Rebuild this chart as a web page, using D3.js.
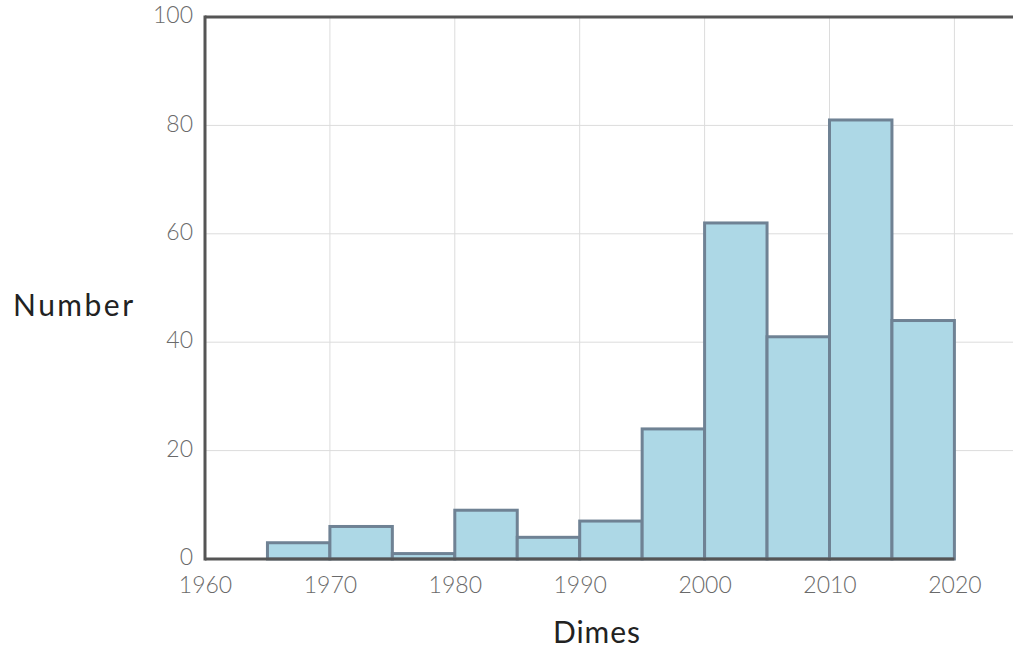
<!DOCTYPE html>
<html><head><meta charset="utf-8">
<script src="https://cdn.jsdelivr.net/npm/d3@7"></script>
<style>body{margin:0;background:#fff}svg{display:block}</style>
</head><body><svg id="c" width="1013" height="650"></svg>
<script>
const binStarts = [1960,1965,1970,1975,1980,1985,1990,1995,2000,2005,2010,2015,2020];
const binWidth = 5;
const counts = [0,3,6,1,9,4,7,24,62,41,81,44,0];
const xTicks = [1960,1970,1980,1990,2000,2010,2020];
const yTicks = [0,20,40,60,80,100];
const xTitle = "Dimes", yTitle = "Number";

const svg = d3.select("#c");
const font = "Lato, 'Noto Sans', sans-serif";
const x = d3.scaleLinear().domain([1960,2025]).range([205, 205+65*12.49]);
const y = d3.scaleLinear().domain([0,100]).range([559, 17]);

// grid
svg.append("g").selectAll("line").data(yTicks.filter(d=>d>0&&d<100)).join("line")
  .attr("x1",205).attr("x2",1013).attr("y1",d=>y(d)).attr("y2",d=>y(d))
  .attr("stroke","#dcdcdc").attr("stroke-width",1);
svg.append("g").selectAll("line").data(xTicks.filter(d=>d>1960)).join("line")
  .attr("y1",y(100)).attr("y2",y(0)).attr("x1",d=>x(d)).attr("x2",d=>x(d))
  .attr("stroke","#dcdcdc").attr("stroke-width",1);

// bars
svg.append("g").selectAll("rect").data(binStarts.map((s,i)=>({s,c:counts[i]}))).join("rect")
  .attr("x",d=>x(d.s)).attr("width",d=>x(d.s+binWidth)-x(d.s))
  .attr("y",d=>y(d.c)).attr("height",d=>y(0)-y(d.c))
  .attr("fill","#add8e6").attr("stroke","#6f8294").attr("stroke-width",3);

// frame
svg.append("line").attr("x1",x(1960)).attr("x2",1013).attr("y1",y(100)).attr("y2",y(100)).attr("stroke","#555").attr("stroke-width",3);
svg.append("line").attr("x1",x(1960)).attr("x2",x(2020)).attr("y1",y(0)).attr("y2",y(0)).attr("stroke","#555").attr("stroke-width",3);
svg.append("line").attr("x1",x(1960)).attr("x2",x(1960)).attr("y1",y(100)-1.5).attr("y2",y(0)+1.5).attr("stroke","#555").attr("stroke-width",3);

// axes labels
const xa = d3.axisBottom(x).tickValues(xTicks).tickFormat(d3.format("d")).tickSize(0).tickPadding(10);
const gx = svg.append("g").attr("transform",`translate(0,${y(0)})`).call(xa);
gx.select(".domain").remove();
gx.selectAll("text").attr("font-family",font).attr("font-size",23).attr("font-weight",300)
  .attr("fill","#6a6a6a").attr("y",34).attr("dy",0);
const ya = d3.axisLeft(y).tickValues(yTicks).tickSize(0).tickPadding(12);
const gy = svg.append("g").attr("transform",`translate(${x(1960)},0)`).call(ya);
gy.select(".domain").remove();
gy.selectAll("text").attr("font-family",font).attr("font-size",23).attr("font-weight",300)
  .attr("fill","#6a6a6a").attr("dy","0.25em");

svg.append("text").attr("x",597).attr("y",643).attr("text-anchor","middle")
  .attr("font-family",font).attr("font-size",30).attr("letter-spacing",1).attr("fill","#222").text(xTitle);
svg.append("text").attr("x",13).attr("y",316)
  .attr("font-family",font).attr("font-size",30).attr("letter-spacing",2.5).attr("fill","#222").text(yTitle);
</script></body></html>
